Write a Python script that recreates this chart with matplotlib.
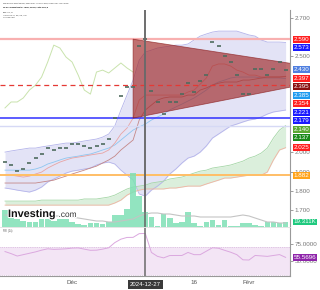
import matplotlib
matplotlib.use("Agg")
import matplotlib.pyplot as plt
import matplotlib.transforms as mtransforms
import matplotlib.patheffects as pe
from matplotlib.patches import Polygon
from matplotlib.ticker import FormatStrFormatter

plt.rcParams['font.family'] = ['Liberation Sans', 'DejaVu Sans']

# daily closes (dash marks)
close = [1.950, 1.935, 1.903, 1.914, 1.945, 1.971, 1.992, 2.023, 2.013, 2.023,
         2.023, 2.044, 2.044, 2.034, 2.023, 2.034, 2.044, 2.070, 2.179, 2.294,
         2.341, 2.341, 2.554, 2.591, 2.320, 2.263, 2.200, 2.263, 2.263, 2.304,
         2.361, 2.315, 2.372, 2.403, 2.575, 2.554, 2.502, 2.471, 2.403, 2.304,
         2.304, 2.434, 2.434, 2.403, 2.434, 2.471, 2.430]

# Bollinger bands
bb_upper = [2.002, 2.008, 2.013, 2.018, 2.023, 2.023, 2.029, 2.034, 2.039, 2.044,
            2.049, 2.049, 2.054, 2.060, 2.065, 2.070, 2.080, 2.096, 2.138, 2.221,
            2.299, 2.377, 2.481, 2.523, 2.533, 2.544, 2.549, 2.554, 2.559, 2.559,
            2.565, 2.586, 2.606, 2.617, 2.627, 2.632, 2.632, 2.632, 2.632, 2.622,
            2.612, 2.606, 2.586, 2.575, 2.575, 2.575, 2.573]
bb_mid = [1.908, 1.908, 1.908, 1.908, 1.908, 1.914, 1.924, 1.940, 1.950, 1.961,
          1.971, 1.976, 1.981, 1.987, 1.992, 2.002, 2.013, 2.023, 2.039, 2.065,
          2.091, 2.117, 2.133, 2.148, 2.169, 2.185, 2.200, 2.221, 2.237, 2.252,
          2.268, 2.284, 2.304, 2.325, 2.351, 2.367, 2.377, 2.388, 2.393, 2.393,
          2.393, 2.393, 2.388, 2.388, 2.388, 2.388, 2.385]
bb_lower = [1.815, 1.810, 1.804, 1.799, 1.794, 1.804, 1.820, 1.846, 1.862, 1.877,
            1.893, 1.903, 1.908, 1.914, 1.919, 1.935, 1.945, 1.950, 1.940, 1.908,
            1.882, 1.856, 1.784, 1.773, 1.804, 1.825, 1.851, 1.888, 1.914, 1.945,
            1.971, 1.981, 2.002, 2.034, 2.075, 2.096, 2.117, 2.138, 2.148, 2.159,
            2.169, 2.174, 2.185, 2.200, 2.211, 2.216, 2.221]

# Ichimoku
tenkan = [1.882, 1.882, 1.877, 1.872, 1.877, 1.888, 1.898, 1.919, 1.935, 1.950,
          1.961, 1.971, 1.976, 1.981, 1.987, 1.992, 1.997, 2.013, 2.049, 2.096,
          2.127, 2.179, 2.273, 2.299, 2.299, 2.299, 2.299, 2.299, 2.299, 2.299,
          2.315, 2.325, 2.356, 2.388, 2.450, 2.461, 2.461, 2.450, 2.429, 2.419,
          2.403, 2.403, 2.393, 2.393, 2.393, 2.393, 2.397]
kijun = [1.841, 1.841, 1.841, 1.841, 1.841, 1.841, 1.846, 1.851, 1.856, 1.867,
         1.877, 1.888, 1.898, 1.908, 1.919, 1.929, 1.945, 1.961, 1.981, 2.013,
         2.039, 2.065, 2.169, 2.221, 2.247, 2.273, 2.284, 2.289, 2.289, 2.289,
         2.299, 2.299, 2.325, 2.336, 2.351, 2.361, 2.367, 2.367, 2.367, 2.377,
         2.377, 2.382, 2.388, 2.393, 2.393, 2.393, 2.395]
span_a = [1.747, 1.747, 1.747, 1.747, 1.747, 1.747, 1.752, 1.752, 1.752, 1.752,
          1.752, 1.752, 1.752, 1.758, 1.758, 1.758, 1.763, 1.768, 1.778, 1.794,
          1.810, 1.820, 1.825, 1.830, 1.841, 1.846, 1.851, 1.862, 1.867, 1.872,
          1.882, 1.893, 1.903, 1.908, 1.919, 1.924, 1.929, 1.935, 1.945, 1.955,
          1.971, 1.981, 1.997, 2.023, 2.075, 2.117, 2.140]
span_b = [1.726, 1.726, 1.726, 1.726, 1.726, 1.726, 1.726, 1.726, 1.726, 1.726,
          1.726, 1.726, 1.726, 1.726, 1.726, 1.726, 1.726, 1.726, 1.737, 1.752,
          1.778, 1.794, 1.804, 1.810, 1.810, 1.810, 1.810, 1.815, 1.815, 1.820,
          1.825, 1.825, 1.825, 1.836, 1.846, 1.856, 1.867, 1.867, 1.872, 1.877,
          1.882, 1.882, 1.882, 1.898, 1.961, 2.013, 2.025]
lagging = [2.232, 2.263, 2.263, 2.284, 2.325, 2.351, 2.393, 2.471, 2.559, 2.544,
           2.497, 2.471, 2.403, 2.325, 2.304, 2.419, 2.429, 2.414, 2.440, 2.466,
           2.440, 2.419]

# volume (thousands) and its 20-period average
volume = [65.6, 46.3, 30.9, 23.2, 19.3, 19.3, 30.9, 30.9, 23.2, 30.9,
          30.9, 19.3, 11.6, 7.7, 15.4, 15.4, 11.6, 19.3, 46.3, 46.3,
          69.5, 208.4, 119.7, 57.9, 38.6, 3.9, 50.2, 34.7, 15.4, 19.3,
          57.9, 15.4, 3.9, 19.3, 27.0, 7.7, 27.0, 3.9, 3.9, 15.4,
          15.4, 7.7, 3.9, 19.3, 19.3, 15.4, 19.311]
volume_ma = [46.3, 46.3, 46.3, 46.3, 46.3, 42.5, 42.5, 42.5, 42.5, 42.5,
             42.5, 38.6, 34.7, 30.9, 27.0, 23.2, 23.2, 19.3, 19.3, 23.2,
             27.0, 30.9, 42.5, 50.2, 54.0, 54.0, 50.2, 50.2, 46.3, 42.5,
             42.5, 42.5, 38.6, 38.6, 38.6, 38.6, 38.6, 38.6, 42.5, 46.3,
             42.5, 34.7, 27.0, 19.3, 19.3, 15.4, 15.4]

rsi = [64.0, 61.0, 57.5, 59.5, 61.5, 63.5, 66.0, 68.0, 67.2, 67.5,
       68.0, 69.0, 69.3, 67.5, 65.8, 66.0, 67.5, 69.5, 77.0, 82.0,
       84.5, 84.6, 90.0, 90.3, 62.7, 57.0, 54.8, 58.2, 58.3, 58.3,
       62.7, 59.5, 59.5, 64.5, 69.5, 68.8, 65.8, 63.0, 59.5, 52.0,
       51.7, 58.3, 57.7, 57.0, 58.3, 59.6, 55.5696]

# drawn objects
tri_x = [21.0, 57.9, 21.0]
tri_y = [2.590, 2.410, 2.179]
level_pink = 2.590
level_red_dash = 2.354
level_blue = 2.179
level_faint = 2.140
level_orange = 1.882
cross_bar = 23

xtick_pos = [11, 31, 40]
xtick_lab = ['Déc', '16', 'Févr']
cross_label = '2024-12-27'
price_ticks = [1.7, 1.8, 1.9, 2.0, 2.5, 2.7]

price_labels = [2.590, 2.573, 2.430, 2.397, 2.395, 2.385, 2.354, 2.221, 2.179,
                2.140, 2.137, 2.025, 1.882]
price_label_cols = ['#ff1f1f', '#1a1aff', '#4f7fe0', '#ff1f1f', '#8b1010', '#1e9bf0',
                    '#ff1f1f', '#1a1aff', '#1a1aff', '#5aa832', '#1a8a1a', '#ff1f1f',
                    '#ffa31a']

W, H = 320, 290
x = list(range(len(close)))


def px_rect(x0, y0, x1, y1):
    return [x0 / W, 1 - y1 / H, (x1 - x0) / W, (y1 - y0) / H]


fig = plt.figure(figsize=(W / 100, H / 100), dpi=100)
ax = fig.add_axes(px_rect(0, 10, 290, 227))
axv = fig.add_axes(px_rect(0, 10, 290, 227), sharex=ax)
axr = fig.add_axes(px_rect(0, 228, 290, 276), sharex=ax)
for a in (ax, axv, axr):
    a.set_facecolor('none')
    for s in a.spines.values():
        s.set_visible(False)

ax.set_xlim(-0.82, 46.72)
ax.set_ylim(1.612, 2.742)

# price panel
ax.fill_between(x, bb_lower, bb_upper, color='#c8c8ef', alpha=0.5, lw=0, zorder=1)
ax.plot(x, bb_upper, color='#b4b4ea', lw=0.6, zorder=2)
ax.plot(x, bb_lower, color='#b4b4ea', lw=0.6, zorder=2)
ax.plot(x, bb_mid, color='#8ec6f0', lw=0.6, zorder=2)
ax.fill_between(x, span_b, span_a, color='#bfe3c0', alpha=0.55, lw=0, zorder=1)
ax.plot(x, span_a, color='#a5d6a7', lw=0.6, zorder=2)
ax.plot(x, span_b, color='#f2b2a2', lw=0.6, zorder=2)
ax.plot(x, tenkan, color='#e8a4a4', lw=0.6, zorder=2)
ax.plot(x, kijun, color='#c48888', lw=0.6, zorder=2)
ax.plot(x[:len(lagging)], lagging, color='#c9e3ad', lw=0.7, zorder=2)

ax.axhline(level_pink, color='#f8b0b0', lw=1.6, zorder=3)
ax.axhline(level_faint, color='#d6d9f5', lw=1.0, zorder=3)
ax.axhline(level_blue, color='#3030ff', lw=1.1, zorder=3)
ax.axhline(level_orange, color='#ffbe66', lw=1.4, zorder=3)
ax.add_patch(Polygon(list(zip(tri_x, tri_y)), closed=True, fc='#a02828', alpha=0.66,
                     ec='#8a1c1c', lw=0.6, zorder=4))
ax.axhline(level_red_dash, color='#e53935', lw=0.9, ls=(0, (4, 3)), zorder=5)
ax.plot(x, close, ls='none', marker='_', ms=3.5, mew=1.2, color='#4f6b5e', zorder=6)

ax.yaxis.tick_right()
ax.set_yticks(price_ticks)
ax.yaxis.set_major_formatter(FormatStrFormatter('%.3f'))
ax.tick_params(axis='y', length=2, width=0.5, colors='#777', labelsize=4.5, pad=1.5)
ax.tick_params(axis='x', bottom=False, labelbottom=False)
ax.spines['right'].set_visible(True)
ax.spines['right'].set_color('#999')
ax.spines['right'].set_linewidth(0.8)
ax.spines['bottom'].set_visible(True)
ax.spines['bottom'].set_color('#e0e0e0')
ax.spines['bottom'].set_linewidth(0.6)

trans = mtransforms.blended_transform_factory(ax.transAxes, ax.transData)
step = 8.5 / 192
prev = None
for v, c in zip(price_labels, price_label_cols):
    p = v if prev is None else min(v, prev - step)
    prev = p
    ax.text(1.012, p, f'{v:.3f}', transform=trans, ha='left', va='center',
            fontsize=4.5, color='white', clip_on=False, zorder=10,
            bbox=dict(boxstyle='square,pad=0.15', fc=c, ec='none'))

# volume overlay
axv.set_ylim(0, 217 * 3.86)
axv.bar(x, volume, width=0.92, color='#7fe0b5', alpha=0.85, lw=0, zorder=1)
axv.plot(x, volume_ma, color='#c4c4c4', lw=0.8, zorder=2)
axv.set_yticks([])
axv.tick_params(axis='x', bottom=False, labelbottom=False)
axv.axvline(cross_bar, color='#6a6a6a', lw=1.1, zorder=5)
tv = mtransforms.blended_transform_factory(axv.transAxes, axv.transData)
axv.text(1.012, volume[-1], '19.311K', transform=tv, ha='left', va='center',
         fontsize=4.5, color='white', clip_on=False, zorder=10,
         bbox=dict(boxstyle='square,pad=0.15', fc='#1fc97e', ec='none'))

ax.axvline(cross_bar, color='#6a6a6a', lw=1.1, zorder=7)

# RSI panel
axr.set_ylim(28.5, 98.2)
axr.axhspan(30, 70, color='#f3e5f5', lw=0, zorder=0)
axr.axhline(70, color='#caa6d0', lw=0.5, ls=':', zorder=1)
axr.axhline(30, color='#caa6d0', lw=0.5, ls=':', zorder=1)
axr.plot(x, rsi, color='#dba8df', lw=0.7, zorder=2)
axr.axvline(cross_bar, color='#6a6a6a', lw=1.1, zorder=5)
axr.set_yticks([50, 75])
axr.yaxis.set_major_formatter(FormatStrFormatter('%.4f'))
axr.tick_params(axis='y', left=False, labelleft=False, right=True, labelright=True,
                length=2, width=0.5, colors='#777', labelsize=4.5, pad=1.5)
axr.set_xticks(xtick_pos)
axr.set_xticklabels(xtick_lab)
axr.tick_params(axis='x', length=0, colors='#555', labelsize=4.5, pad=3)
for s in ('right', 'bottom'):
    axr.spines[s].set_visible(True)
    axr.spines[s].set_color('#999')
    axr.spines[s].set_linewidth(0.8)
tr = mtransforms.blended_transform_factory(axr.transAxes, axr.transData)
axr.text(1.012, rsi[-1], f'{rsi[-1]:.4f}', transform=tr, ha='left', va='center',
         fontsize=4.5, color='white', clip_on=False, zorder=10,
         bbox=dict(boxstyle='square,pad=0.15', fc='#8e24aa', ec='none'))
tb = mtransforms.blended_transform_factory(axr.transData, axr.transAxes)
axr.text(cross_bar, -0.17, cross_label, transform=tb, ha='center', va='center',
         fontsize=4.3, color='white', clip_on=False, zorder=10,
         bbox=dict(boxstyle='square,pad=0.35', fc='#3a3a3a', ec='none'))
axr.text(0.01, 0.93, 'RSI (14)', transform=axr.transAxes, fontsize=1.8, color='#555',
         va='center')

# header + logo
fig.text(3 / W, 1 - 3 / H, 'Published on Investing.com, 9/Mar/2025 - 13:01:10 GMT, Powered by TradingView',
         fontsize=1.3, color='#333', va='center')
fig.text(3 / W, 1 - 7.5 / H, 'Ne Government Multiyr fiduci, Turkey, Taste ONE, D',
         fontsize=1.4, color='#111', weight='bold', va='center')
for i, t in enumerate(['BB (20, 2)', 'Ichimoku (9, 26, 52, 26)', 'Volume (20)']):
    fig.text(3 / W, 1 - (12.7 + 2.3 * i) / H, t, fontsize=1.6, color='#333', va='center')

halo = [pe.withStroke(linewidth=1.5, foreground='white')]
fig.text(8 / W, 1 - 217 / H, 'Investing', fontsize=7.8, weight='bold', color='#111',
         va='baseline', path_effects=halo, zorder=20)
fig.text(58.5 / W, 1 - 217 / H, '.com', fontsize=6, color='#333', va='baseline',
         path_effects=halo, zorder=20)

fig.savefig('out.png', dpi=100)
